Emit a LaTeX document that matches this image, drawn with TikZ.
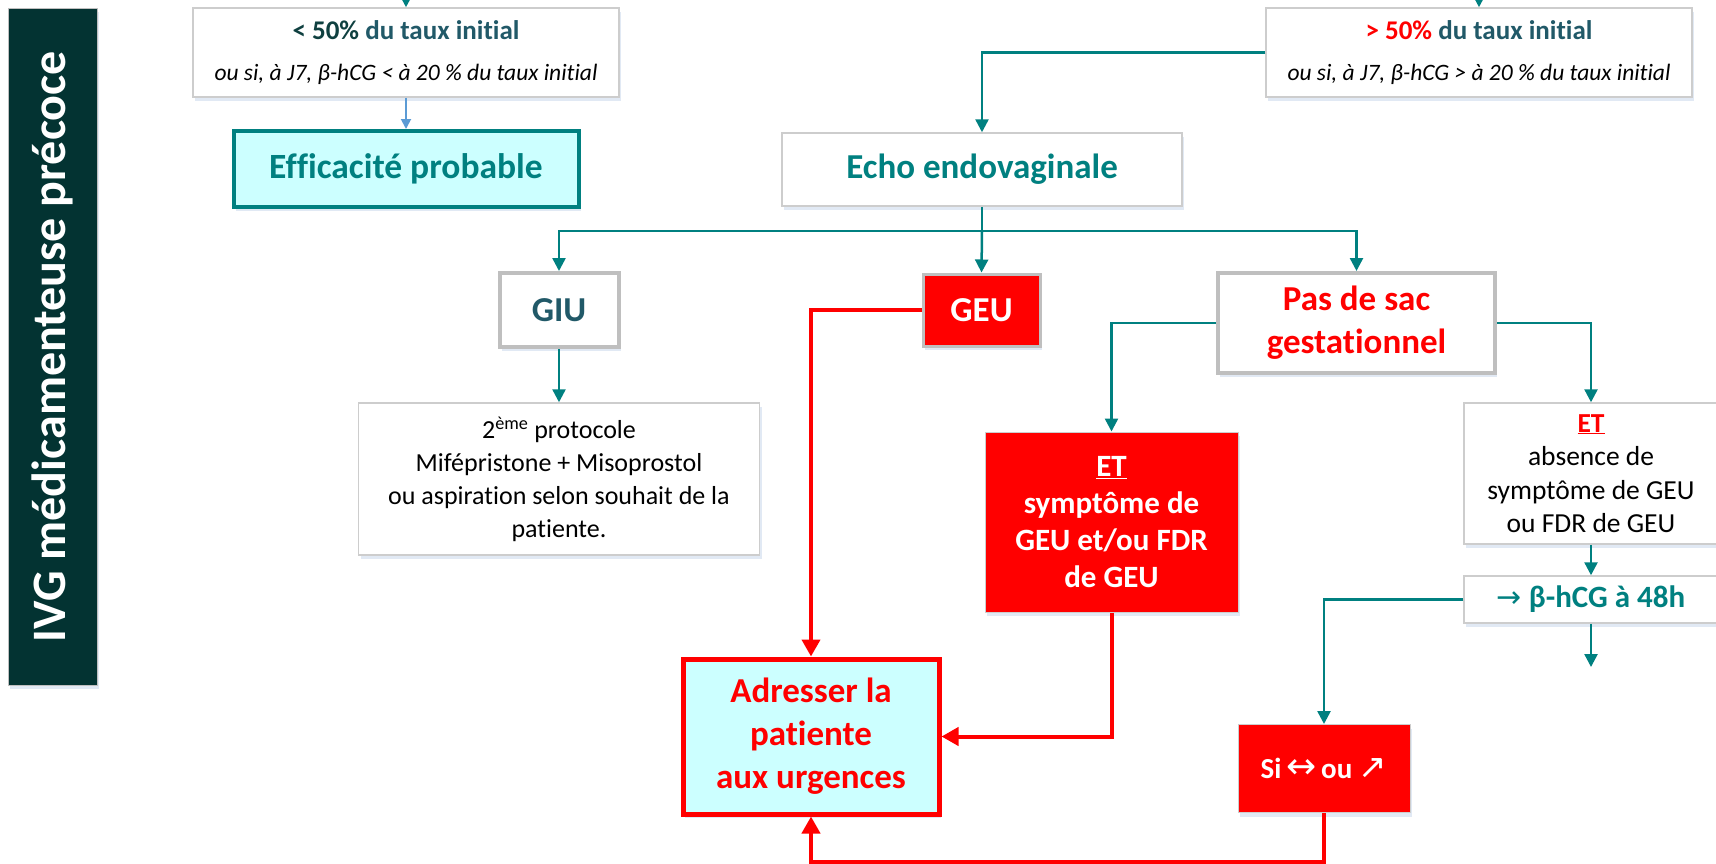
\documentclass[tikz,border=0pt]{standalone}
\usepackage{fontspec}
\setmainfont{Carlito}[Ligatures=NoCommon]
\newfontfamily\symfont{DejaVu Sans}
\usetikzlibrary{arrows.meta,shadows}
\newcommand\fsz[2]{\fontsize{#1}{#2}\selectfont}
\definecolor{tealc}{RGB}{0,128,128}
\definecolor{dteal}{RGB}{33,89,104}
\definecolor{ddteal}{RGB}{15,64,64}
\definecolor{redc}{RGB}{255,0,0}
\definecolor{cyanfill}{RGB}{204,255,255}
\definecolor{bluearr}{RGB}{91,155,213}
\definecolor{grayb}{RGB}{191,191,191}
\definecolor{lgrayb}{RGB}{205,205,205}
\definecolor{barc}{RGB}{3,51,50}
\definecolor{shadowc}{RGB}{218,228,242}
\tikzset{
  sh/.style={drop shadow={shadow xshift=2pt, shadow yshift=-4pt, fill=shadowc, opacity=0.8}},
  box/.style={draw=lgrayb, line width=1.5pt, fill=white, inner sep=0pt, align=center, sh},
  gbox/.style={draw=grayb, line width=4pt, fill=white, inner sep=0pt, align=center, sh},
  redbox/.style={draw=lgrayb, line width=1pt, fill=redc, text=white, inner sep=0pt, align=center, sh},
  tl/.style={draw=tealc, line width=2.5pt, -{Triangle[width=13pt,length=13pt]}},
  rl/.style={draw=redc, line width=4pt, -{Triangle[width=18pt,length=17pt]}},
  bl/.style={draw=bluearr, line width=1.8pt, -{Triangle[width=10pt,length=10pt]}},
}
\begin{document}
\begin{tikzpicture}[x=1pt,y=-1pt]
\useasboundingbox (0,0) rectangle (1716,863);
\fill[white] (0,0) rectangle (1716,863);
\begin{scope}
\clip (0,0) rectangle (1716,863);
% side bar
\node[fill=barc, draw=grayb, line width=1pt, rotate=90, minimum width=677pt, minimum height=89pt, inner sep=0pt, text=white, font=\bfseries\fsz{48}{56}, sh] (bar) at (52.5,346.5) {IVG médicamenteuse précoce};
% top boxes
\node[box, minimum width=426pt, minimum height=89pt, text=dteal, font=\bfseries\fsz{27}{41}] (lt) at (406,52.5)
  {{\color{ddteal}< 50\%} du taux initial\\ {\mdseries\itshape\color{black}\fsz{23.5}{41}ou si, à J7, β-hCG < à 20 \% du taux initial}};
\node[box, minimum width=426pt, minimum height=89pt, text=dteal, font=\bfseries\fsz{27}{41}] (rt) at (1479,52.5)
  {{\color{redc}> 50\%} du taux initial\\ {\mdseries\itshape\color{black}\fsz{23.5}{41}ou si, à J7, β-hCG > à 20 \% du taux initial}};
\node[draw=tealc, line width=4pt, fill=cyanfill, inner sep=0pt, minimum width=345pt, minimum height=76pt, text=tealc, font=\bfseries\fsz{35.5}{43}, sh] (eff) at (406,169) {Efficacité probable};
\node[box, minimum width=400pt, minimum height=73pt, text=tealc, font=\bfseries\fsz{35}{43}] (echo) at (982,169.5) {Echo endovaginale};
% second row
\node[gbox, minimum width=119pt, minimum height=74pt, text=dteal, font=\bfseries\fsz{35}{43}] (giu) at (559,310) {GIU};
\node[redbox, draw=grayb, line width=3pt, minimum width=117pt, minimum height=72pt, font=\bfseries\fsz{35}{43}] (geu) at (981.5,310) {GEU};
\node[gbox, minimum width=277pt, minimum height=100pt, text=redc, font=\bfseries\fsz{35}{43}] (pas) at (1356.5,323) {Pas de sac\\gestationnel};
% third row
\node[box, minimum width=401pt, minimum height=152pt, font=\fsz{26}{33}] (proto) at (559,479)
  {2\textsuperscript{ème} protocole\\Mifépristone + Misoprostol\\ou aspiration selon souhait de la\\patiente.};
\node[redbox, minimum width=253pt, minimum height=180pt, font=\bfseries\fsz{31}{37}] (etr) at (1111.5,522)
  {\underline{ET}\\symptôme de\\GEU et/ou FDR\\de GEU};
\node[box, minimum width=254pt, minimum height=141pt, font=\fsz{27.5}{33.5}] (etw) at (1591,473.5)
  {{\bfseries\color{redc}\underline{ET}}\\absence de\\symptôme de GEU\\ou FDR de GEU};
\node[box, minimum width=254pt, minimum height=47pt, text=tealc, font=\bfseries\fsz{31}{37}] (beta) at (1591,599.5)
  {{\symfont\mdseries\fsz{30}{37}→} β-hCG à 48h};
\node[draw=redc, line width=5pt, fill=cyanfill, inner sep=0pt, minimum width=256pt, minimum height=155pt, text=redc, align=center, font=\bfseries\fsz{35}{43}, sh] (adr) at (811,736.5)
  {Adresser la\\patiente\\aux urgences};
\node[redbox, minimum width=172pt, minimum height=88pt, font=\bfseries\fsz{29}{35}] (si) at (1324,768.5)
  {Si\,{\symfont\mdseries\fsz{36}{35}↔}\,ou {\symfont\mdseries\fsz{34}{35}↗}};
% free ends
\coordinate (ltin) at (406,-20);
\coordinate (rtin) at (1479,-20);
\coordinate (bus) at (982,231);
\coordinate (bout) at (1591,667);
% connectors
\draw[tl] (ltin) -- (lt.north);
\draw[tl] (rtin) -- (rt.north);
\draw[bl] (lt.south) -- (eff.north);
\draw[tl] (rt.west) -| (echo.north);
\draw[tl] (echo.south) -- (bus) -| (giu.north);
\draw[tl] (bus) -- (geu.north);
\draw[tl] (bus) -| (pas.north);
\draw[tl] (giu.south) -- (proto.north);
\draw[rl] (geu.west) -| (adr.north);
\draw[tl] (pas.west) -| (etr.north);
\draw[tl] (pas.east) -| (etw.north);
\draw[rl] (etr.south) |- (adr.east);
\draw[tl] (etw.south) -- (beta.north);
\draw[tl] (beta.south) -- (bout);
\draw[tl] (beta.west) -| (si.north);
\draw[rl] (si.south) -- ++(0,49) -| (adr.south);
\end{scope}
\end{tikzpicture}
\end{document}
